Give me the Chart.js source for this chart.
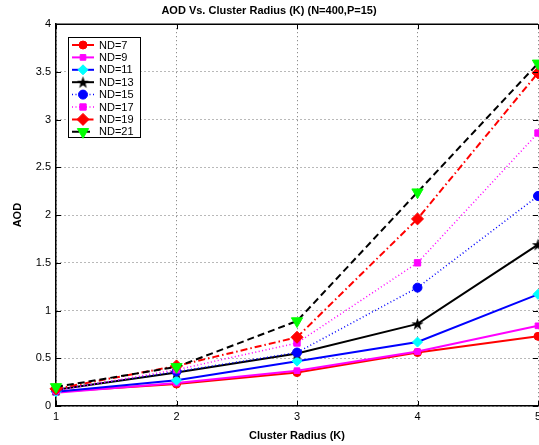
<!DOCTYPE html>
<html><head><meta charset="utf-8">
<script src="https://cdn.jsdelivr.net/npm/chart.js@4/dist/chart.umd.min.js"></script>
<style>
html,body{margin:0;padding:0;background:#fff;overflow:hidden;}
#wrap{width:539px;height:445px;overflow:hidden;position:relative;background:#fff;}
#c{position:absolute;left:0;top:0;}
</style></head><body>
<div id="wrap"><canvas id="c" width="574" height="445"></canvas></div>
<script>
// ---- data ----
const radius = [1, 2, 3, 4, 5];
const seriesNames = ['ND=7','ND=9','ND=11','ND=13','ND=15','ND=17','ND=19','ND=21'];
const nd7  = [0.15, 0.23, 0.35, 0.56, 0.73];
const nd9  = [0.14, 0.24, 0.37, 0.57, 0.84];
const nd11 = [0.15, 0.27, 0.47, 0.67, 1.17];
const nd13 = [0.17, 0.35, 0.55, 0.86, 1.69];
const nd15 = [0.17, 0.36, 0.56, 1.24, 2.20];
const nd17 = [0.16, 0.38, 0.66, 1.50, 2.86];
const nd19 = [0.18, 0.42, 0.72, 1.96, 3.49];
const nd21 = [0.20, 0.41, 0.89, 2.24, 3.59];
const yTickLabels = ['0','0.5','1','1.5','2','2.5','3','3.5','4'];
const xTickLabels = ['1','2','3','4','5'];

function pentagram(size, color){
  const c = document.createElement('canvas'); c.width = c.height = size;
  const g = c.getContext('2d'); g.fillStyle = color; g.beginPath();
  const cx = size/2, cy = size/2 + 0.5, R = size/2, r = R*0.40;
  for (let i = 0; i < 10; i++){
    const a = -Math.PI/2 + i*Math.PI/5, rr = (i%2) ? r : R;
    g.lineTo(cx + rr*Math.cos(a), cy + rr*Math.sin(a));
  }
  g.closePath(); g.fill(); return c;
}
const starImg = pentagram(13, '#000');

const styles = [
  {line:'#ff0000', pt:'#ff0000', ps:'circle', r:4, dash:[], w:2},
  {line:'#ff00ff', pt:'#ff00ff', ps:'rect', r:4, dash:[], w:2},
  {line:'#0000ff', pt:'#00ffff', ps:'rectRot', r:5, dash:[], w:2},
  {line:'#000000', pt:'#000000', ps:starImg, r:6, dash:[], w:2},
  {line:'#0000ff', pt:'#0000ff', ps:'circle', r:4.5, dash:[1,2.5], w:1.5},
  {line:'#ff00ff', pt:'#ff00ff', ps:'rect', r:4.5, dash:[1,2.5], w:1.5},
  {line:'#ff0000', pt:'#ff0000', ps:'rectRot', r:6, dash:[7,3,1.5,3], w:2},
  {line:'#000000', pt:'#00ff00', ps:'triangle', r:6.5, dash:[7,4], w:2, rot:180}
];
const values = [nd7, nd9, nd11, nd13, nd15, nd17, nd19, nd21];

const datasets = values.map((arr, i) => {
  const s = styles[i];
  return {
    label: seriesNames[i],
    data: radius.map((x, j) => ({x: x, y: arr[j]})),
    borderColor: s.line, borderWidth: s.w, borderDash: s.dash,
    pointStyle: s.ps, pointRadius: s.r, pointRotation: s.rot || 0,
    pointBackgroundColor: s.pt, pointBorderColor: s.pt, pointBorderWidth: 1,
    fill: false, tension: 0, clip: false, order: values.length - i
  };
});

const FONT = '"Liberation Sans", Arial, Helvetica, sans-serif';

const decor = {
  id: 'decor',
  afterDraw(chart){
    const ctx = chart.ctx, a = chart.chartArea, xs = chart.scales.x, ys = chart.scales.y;
    ctx.save();
    ctx.strokeStyle = '#000'; ctx.lineWidth = 1.5;
    ctx.beginPath(); ctx.moveTo(a.left, a.top); ctx.lineTo(a.right, a.top); ctx.stroke();
    ctx.lineWidth = 1;
    ctx.beginPath();
    radius.forEach(v => {
      const px = Math.round(xs.getPixelForValue(v)) + 0.5;
      ctx.moveTo(px, a.bottom); ctx.lineTo(px, a.bottom - 5);
      ctx.moveTo(px, a.top); ctx.lineTo(px, a.top + 5);
    });
    yTickLabels.forEach(t => {
      const py = Math.round(ys.getPixelForValue(parseFloat(t))) + 0.5;
      ctx.moveTo(a.left, py); ctx.lineTo(a.left + 5, py);
      ctx.moveTo(a.right, py); ctx.lineTo(a.right - 5, py);
    });
    ctx.stroke();
    // legend
    const bx = 68.5, by = 37.5, bw = 72, bh = 100;
    ctx.fillStyle = '#fff'; ctx.fillRect(bx, by, bw, bh);
    ctx.strokeStyle = '#000'; ctx.lineWidth = 1; ctx.strokeRect(bx, by, bw, bh);
    ctx.font = '11px ' + FONT; ctx.textBaseline = 'middle'; ctx.textAlign = 'left';
    chart.data.datasets.forEach((d, i) => {
      const s = styles[i];
      const y = 45 + i * 12.4;
      ctx.save();
      ctx.strokeStyle = s.line; ctx.lineWidth = s.w; ctx.setLineDash(s.dash);
      ctx.beginPath(); ctx.moveTo(72, y); ctx.lineTo(94, y); ctx.stroke();
      ctx.restore();
      ctx.save();
      ctx.fillStyle = s.pt; ctx.strokeStyle = s.pt; ctx.lineWidth = 1;
      Chart.helpers.drawPoint(ctx, {pointStyle: s.ps, radius: s.r, rotation: s.rot || 0, borderWidth: 1}, 83, y);
      ctx.restore();
      ctx.fillStyle = '#000';
      ctx.fillText(d.label, 99, y + 0.5);
    });
    ctx.restore();
  }
};

new Chart(document.getElementById('c'), {
  type: 'line',
  data: { datasets },
  options: {
    responsive: false, animation: false,
    layout: { padding: { left: 0, right: 36, top: 0, bottom: 0 } },
    plugins: {
      legend: { display: false }, tooltip: { enabled: false },
      title: {
        display: true, text: 'AOD Vs. Cluster Radius (K) (N=400,P=15)',
        color: '#000', font: { family: FONT, size: 11, weight: 'bold' },
        padding: { top: 4, bottom: 7 }
      }
    },
    scales: {
      x: {
        type: 'linear', min: 1, max: 5,
        afterFit(s){ s.height = 39; },
        afterBuildTicks(s){ s.ticks = radius.map(v => ({value: v})); },
        ticks: { callback: (v, i) => xTickLabels[i], color: '#000', padding: 4, font: { family: FONT, size: 11 }, maxRotation: 0 },
        grid: { color: 'rgba(0,0,0,0.55)', lineWidth: 1, drawTicks: false },
        border: { display: true, color: '#000', width: 1.5, dash: [1, 3] },
        title: { display: true, text: 'Cluster Radius (K)', color: '#000', font: { family: FONT, size: 11, weight: 'bold' }, padding: { top: 0, bottom: 2.5 } }
      },
      y: {
        type: 'linear', min: 0, max: 4,
        afterFit(s){ s.width = 56; },
        afterBuildTicks(s){ s.ticks = yTickLabels.map(t => ({value: parseFloat(t)})); },
        ticks: { callback: (v, i) => yTickLabels[i], color: '#000', padding: 5, font: { family: FONT, size: 11 } },
        grid: { color: 'rgba(0,0,0,0.55)', lineWidth: 1, drawTicks: false },
        border: { display: true, color: '#000', width: 1.5, dash: [1, 3] },
        title: { display: true, text: 'AOD', color: '#000', font: { family: FONT, size: 11, weight: 'bold' }, padding: { top: 11.5, bottom: 0 } }
      }
    }
  },
  plugins: [decor]
});
</script>
</body></html>
